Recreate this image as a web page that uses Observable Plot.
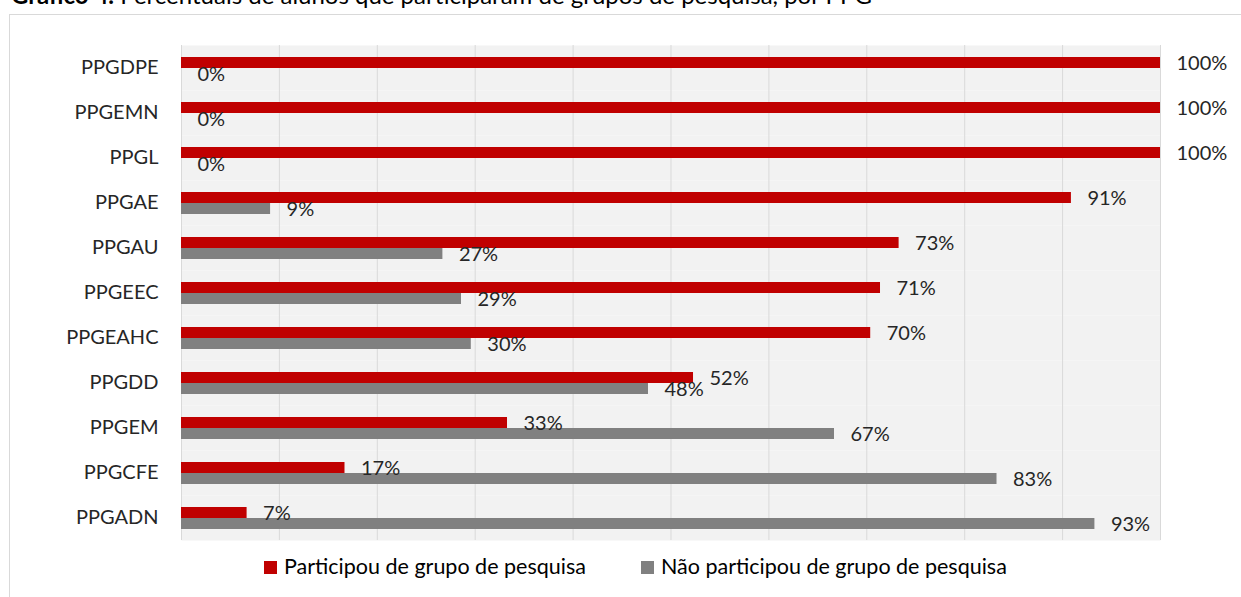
<!DOCTYPE html>
<html>
<head>
<meta charset="utf-8">
<script src="https://cdn.jsdelivr.net/npm/d3@7"></script>
<script src="https://cdn.jsdelivr.net/npm/@observablehq/plot@0.6"></script>
<style>
  html, body { margin:0; padding:0; background:#fff; overflow:hidden; }
  body { width:1241px; height:597px; position:relative; font-family:Lato, "Open Sans", sans-serif; }
  #title { position:absolute; left:11px; top:-17px; font-size:24px; line-height:24px; color:#000; white-space:nowrap; }
  #box { position:absolute; left:9px; top:14px; width:1240px; height:600px; border:1px solid #d9d9d9; box-sizing:border-box; }
  #chart { position:absolute; left:0; top:0; }
  .sw { position:absolute; width:13px; height:13px; }
  .lt { position:absolute; font-size:21.5px; line-height:21.5px; color:#000; white-space:nowrap; }
</style>
</head>
<body>
<div id="title"><b>Gráfico 4.</b> Percentuais de alunos que participaram de grupos de pesquisa, por PPG</div>
<div id="box"></div>
<div id="chart"></div>
<div id="legend"></div>
<script>
const categories = ["PPGDPE","PPGEMN","PPGL","PPGAE","PPGAU","PPGEEC","PPGEAHC","PPGDD","PPGEM","PPGCFE","PPGADN"];
const participou = [100,100,100,90.9,73.3,71.4,70.4,52.3,33.3,16.7,6.7];
const naoParticipou = [0,0,0,9.1,26.7,28.6,29.6,47.7,66.7,83.3,93.3];
const seriesNames = ["Participou de grupo de pesquisa","Não participou de grupo de pesquisa"];
const seriesColors = ["#c00000","#808080"];
const xTicks = [0,10,20,30,40,50,60,70,80,90,100];

const data = categories.flatMap((c, i) => [
  {cat: c, series: seriesNames[0], value: participou[i]},
  {cat: c, series: seriesNames[1], value: naoParticipou[i]}
]);

const chart = Plot.plot({
  width: 1241,
  height: 597,
  marginLeft: 181,
  marginRight: 81,
  marginTop: 44,
  marginBottom: 56,
  style: {fontFamily: "Lato, 'Open Sans', sans-serif", fontSize: "20px", color: "#262626", background: "transparent", overflow: "visible"},
  x: {domain: [0, 100], axis: null},
  fy: {domain: categories, padding: 0, axis: "left", tickSize: 0, tickPadding: 23, label: null},
  y: {domain: seriesNames, axis: null, paddingInner: 0, paddingOuter: 0.93},
  color: {domain: seriesNames, range: seriesColors},
  marks: [
    Plot.frame({fill: "#f2f2f2", stroke: null}),
    Plot.ruleX(xTicks, {stroke: "#d9d9d9", strokeWidth: 1}),
    Plot.barX(data, {x: "value", y: "series", fy: "cat", fill: "series"}),
    Plot.text(data, {x: "value", y: "series", fy: "cat", text: d => Math.round(d.value) + "%", dx: 16, dy: 1, textAnchor: "start", fill: "#262626"})
  ]
});
document.getElementById("chart").appendChild(chart);

const legend = document.getElementById("legend");
const legendPos = [{sx: 264, tx: 284}, {sx: 641, tx: 661}];
seriesNames.forEach((name, i) => {
  const sw = document.createElement("div");
  sw.className = "sw";
  sw.style.left = legendPos[i].sx + "px";
  sw.style.top = "561px";
  sw.style.background = seriesColors[i];
  legend.appendChild(sw);
  const t = document.createElement("div");
  t.className = "lt";
  t.style.left = legendPos[i].tx + "px";
  t.style.top = "555.5px";
  t.textContent = name;
  legend.appendChild(t);
});
</script>
</body>
</html>
